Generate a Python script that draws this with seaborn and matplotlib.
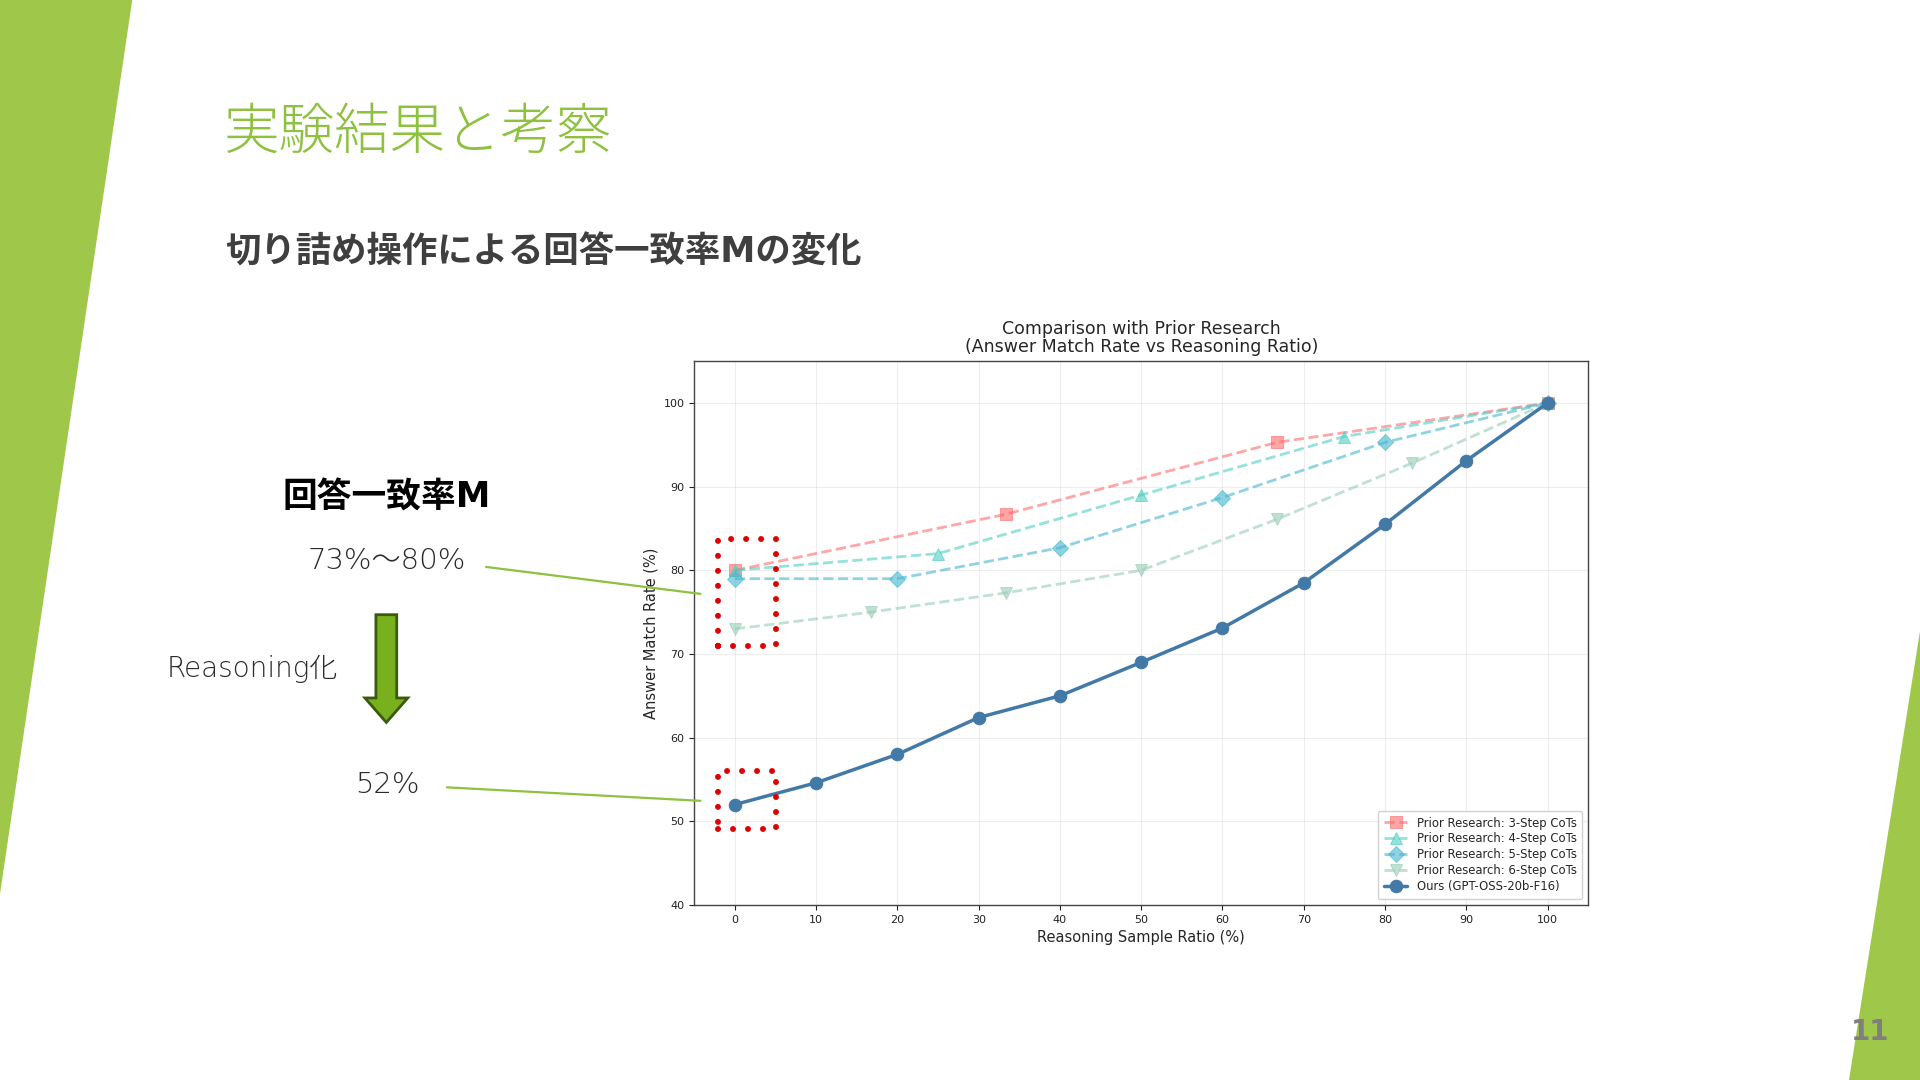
import numpy as np
import pandas as pd
import matplotlib
matplotlib.use("Agg")
import matplotlib.pyplot as plt
import seaborn as sns
from matplotlib.patches import Polygon, Rectangle
from matplotlib.lines import Line2D


# data
RATIO_3 = [0, 33.3, 66.7, 100]
MATCH_3 = [80.0, 86.7, 95.3, 100.0]

RATIO_4 = [0, 25, 50, 75, 100]
MATCH_4 = [80.0, 82.0, 89.0, 96.0, 100.0]

RATIO_5 = [0, 20, 40, 60, 80, 100]
MATCH_5 = [79.0, 79.0, 82.7, 88.7, 95.3, 100.0]

RATIO_6 = [0, 16.7, 33.3, 50, 66.7, 83.3, 100]
MATCH_6 = [73.0, 75.0, 77.3, 80.0, 86.1, 92.8, 100.0]

RATIO_OURS = [0, 10, 20, 30, 40, 50, 60, 70, 80, 90, 100]
MATCH_OURS = [52.0, 54.6, 58.0, 62.4, 65.0, 69.0, 73.1, 78.5, 85.5, 93.1, 100.0]

SLIDE_TITLE = "実験結果と考察"
SLIDE_SUBTITLE = "切り詰め操作による回答一致率Mの変化"
CHART_TITLE = "Comparison with Prior Research\n(Answer Match Rate vs Reasoning Ratio)"

GREEN = "#9fc84a"
TITLE_GREEN = "#8dc13f"
W, H = 1568.0, 882.0  # reference layout units


def fx(x):
    return x / W


def fy(y):
    return 1 - y / H


def draw_slide(fig):
    # left and right green shapes
    fig.patches.append(Polygon([(fx(0), fy(0)), (fx(108), fy(0)), (fx(0), fy(730))],
                               closed=True, transform=fig.transFigure,
                               facecolor=GREEN, edgecolor="none", zorder=0))
    fig.patches.append(Polygon([(fx(1568), fy(515)), (fx(1568), fy(882)), (fx(1510), fy(882))],
                               closed=True, transform=fig.transFigure,
                               facecolor=GREEN, edgecolor="none", zorder=0))

    fig.text(fx(183), fy(109), SLIDE_TITLE, fontsize=40, color=TITLE_GREEN,
             fontweight="light", va="center", ha="left")
    fig.text(fx(184), fy(206), SLIDE_SUBTITLE, fontsize=25.5, color="#3f3f3f",
             fontweight="bold", va="center", ha="left")

    fig.text(fx(316), fy(406), "回答一致率M", fontsize=25, color="black",
             fontweight="bold", va="center", ha="center")
    fig.text(fx(316), fy(458), "73%～80%", fontsize=21, color="#2a2a2a",
             fontweight="light", va="center", ha="center")
    fig.text(fx(206), fy(546), "Reasoning化", fontsize=20, color="#2a2a2a",
             fontweight="light", va="center", ha="center")
    fig.text(fx(316), fy(641), "52%", fontsize=21, color="#2a2a2a",
             fontweight="light", va="center", ha="center")

    arrow = [(307, 502), (324, 502), (324, 570), (333, 570), (315.5, 590),
             (298, 570), (307, 570)]
    fig.patches.append(Polygon([(fx(x), fy(y)) for x, y in arrow], closed=True,
                               transform=fig.transFigure, facecolor="#78b01e",
                               edgecolor="#3b5a0c", linewidth=2, zorder=2))

    for x0, y0, x1, y1 in [(397, 463, 572, 485), (365, 643, 572, 654)]:
        fig.lines.append(Line2D([fx(x0), fx(x1)], [fy(y0), fy(y1)],
                                transform=fig.transFigure, color=TITLE_GREEN,
                                linewidth=1.6, zorder=3))

    fig.text(fx(1527), fy(843), "11", fontsize=20, color="#7f7f7f",
             fontweight="bold", va="center", ha="center")


def main():
    sns.set_style("ticks")
    plt.rcParams["font.family"] = ["DejaVu Sans", "Noto Sans CJK JP"]

    fig = plt.figure(figsize=(19.2, 10.8), dpi=100)
    draw_slide(fig)

    ax = fig.add_axes([fx(567), fy(739), fx(1297) - fx(567), fy(295) - fy(739)])

    prior = [
        (RATIO_3, MATCH_3, "Prior Research: 3-Step CoTs", "#FF6B6B", "s"),
        (RATIO_4, MATCH_4, "Prior Research: 4-Step CoTs", "#4ECDC4", "^"),
        (RATIO_5, MATCH_5, "Prior Research: 5-Step CoTs", "#45B7D1", "D"),
        (RATIO_6, MATCH_6, "Prior Research: 6-Step CoTs", "#96CEB4", "v"),
    ]
    for xs, ys, label, color, marker in prior:
        df = pd.DataFrame({"ratio": xs, "match": ys})
        sns.lineplot(data=df, x="ratio", y="match", ax=ax, color=color, marker=marker,
                     markersize=8, linewidth=2.0, linestyle="--", alpha=0.6,
                     markeredgecolor=color, label=label, zorder=3)

    df = pd.DataFrame({"ratio": RATIO_OURS, "match": MATCH_OURS})
    sns.lineplot(data=df, x="ratio", y="match", ax=ax, color="#4279a6", marker="o",
                 markersize=9, linewidth=2.5, markeredgecolor="#4279a6",
                 label="Ours (GPT-OSS-20b-F16)", zorder=4)

    ax.set_xlim(-5, 105)
    ax.set_ylim(40, 105)
    ax.set_xticks(np.arange(0, 101, 10))
    ax.set_yticks(np.arange(40, 101, 10))
    ax.tick_params(labelsize=8, colors="#222222")
    ax.grid(True, alpha=0.35)
    for spine in ax.spines.values():
        spine.set_visible(True)
        spine.set_color("#444444")
        spine.set_linewidth(1.0)

    ax.set_xlabel("Reasoning Sample Ratio (%)", fontsize=10.5)
    ax.set_ylabel("Answer Match Rate (%)", fontsize=10.5)
    ax.set_title(CHART_TITLE, fontsize=12.5, pad=7, linespacing=1.0)
    ax.legend(loc="lower right", fontsize=8.4, framealpha=0.9, borderpad=0.5,
              labelspacing=0.25, handlelength=2.0)

    # red dotted highlight boxes around the 0% points
    for y0, y1 in [(71.0, 83.8), (49.1, 56.0)]:
        ax.add_patch(Rectangle((-2.1, y0), 7.1, y1 - y0, fill=False, edgecolor="#e00000",
                               linewidth=4.3, linestyle=(0, (0.01, 2.5)),
                               capstyle="round", zorder=6, clip_on=False))

    fig.savefig("out.png", dpi=100)
    plt.close(fig)


if __name__ == "__main__":
    main()
